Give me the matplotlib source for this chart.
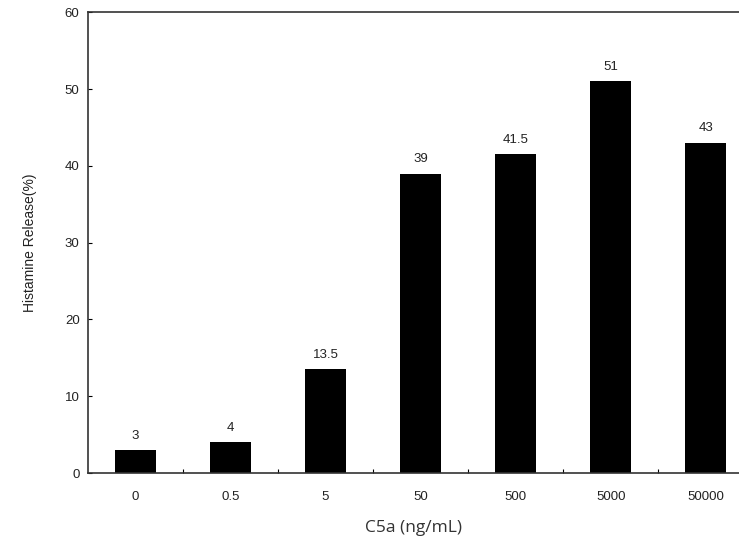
import matplotlib
matplotlib.use("Agg")
import matplotlib.pyplot as plt
import numpy as np

categories = ["0", "0.5", "5", "50", "500", "5000", "50000"]
values = [3, 4, 13.5, 39, 41.5, 51, 43]
value_labels = ["3", "4", "13.5", "39", "41.5", "51", "43"]
yticks = [0, 10, 20, 30, 40, 50, 60]

fig = plt.figure(figsize=(7.39, 5.44), dpi=100)
ax = fig.add_axes([0.119, 0.1305, 0.881, 0.847])
x = np.arange(len(categories))
ax.bar(x, values, width=0.43, color="black")
for xi, v, lab in zip(x, values, value_labels):
    ax.text(xi, v + 1.1, lab, ha="center", va="bottom", fontsize=9.5,
            family="Liberation Sans", color="#222222")
ax.set_xlim(-0.5, 6.35)
ax.set_ylim(0, 60)
ax.set_yticks(yticks)
ax.set_yticklabels([str(t) for t in yticks], family="Liberation Sans", fontsize=9.5, color="#222222")
ax.set_xticks(x)
ax.set_xticklabels(categories, family="Liberation Sans", fontsize=9.5, color="#222222")
ax.tick_params(axis="x", length=0, pad=13)
ax.set_xticks(np.arange(0.5, 6.5, 1), minor=True)
ax.tick_params(axis="x", which="minor", direction="in", length=3, width=0.8)
ax.tick_params(axis="y", direction="in", length=3, width=0.8, pad=6)
ax.spines["right"].set_visible(False)
for s in ["left", "bottom", "top"]:
    ax.spines[s].set_linewidth(1.2)
    ax.spines[s].set_color("#333333")
ax.set_ylabel("Histamine Release(%)", family="Liberation Sans", fontsize=10, color="#222222", labelpad=20)
ax.set_xlabel("C5a (ng/mL)", family="Open Sans", fontsize=12.5, color="#333333", labelpad=12)
fig.savefig("out.png", dpi=100)
